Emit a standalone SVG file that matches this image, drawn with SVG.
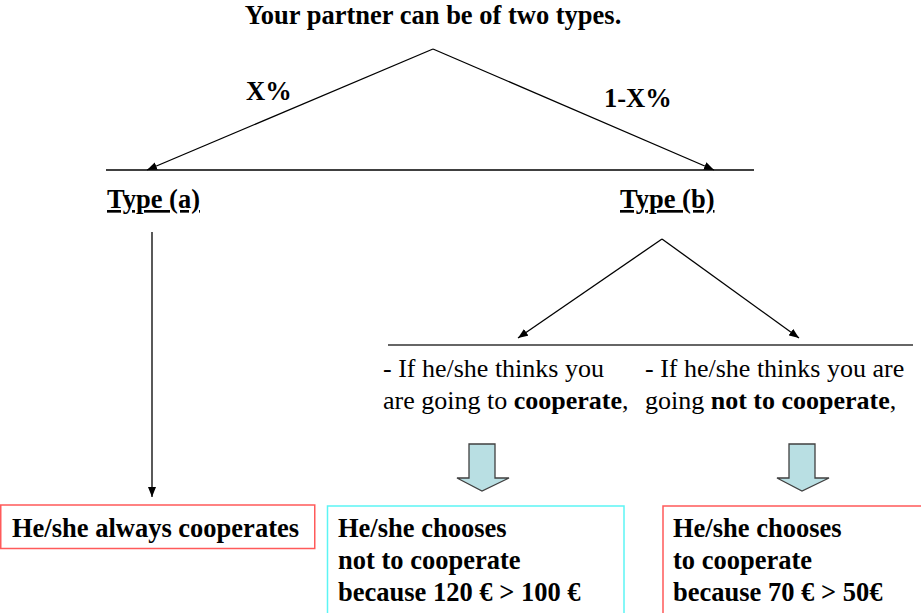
<svg xmlns="http://www.w3.org/2000/svg" width="921" height="613" viewBox="0 0 921 613">
<defs>
<marker id="ah" viewBox="0 0 10 8" refX="10" refY="4" markerWidth="10" markerHeight="8" markerUnits="userSpaceOnUse" orient="auto">
<path d="M0,0 L10,4 L0,8 Z" fill="#000"/>
</marker>
<style>
text{fill:#000}
.b{font-weight:bold;font-size:26.5px}
.r{font-size:26px}
.bt{font-weight:bold}
.ln{stroke:#000;stroke-width:1.3;fill:none}
.arr{stroke:#000;stroke-width:1.3;fill:none;marker-end:url(#ah)}
.blk{fill:#b9dfe3;stroke:#404040;stroke-width:1.3}
.red{fill:#fff;stroke:#ff5a5a;stroke-width:1.5}
.cyan{fill:#fff;stroke:#5cf5f5;stroke-width:1.5}
</style>
</defs>
<rect width="921" height="613" fill="#fff"/>
<g font-family="Liberation Serif, Times New Roman, Times, DejaVu Serif, serif">
<g id="title"><text class="b" x="433" y="24" text-anchor="middle">Your partner can be of two types.</text></g>
<g id="label-x"><text class="b" x="246" y="100">X%</text></g>
<g id="label-1x"><text class="b" x="604" y="107">1-X%</text></g>
<g id="type-a"><text class="b" x="107" y="208" text-decoration="underline">Type (a)</text></g>
<g id="type-b"><text class="b" x="620" y="208" text-decoration="underline">Type (b)</text></g>
<g id="cond-coop"><text class="r" x="383" y="377">- If he/she thinks you</text><text class="r" x="383" y="409">are going to <tspan class="bt">cooperate</tspan>,</text></g>
<g id="cond-notcoop"><text class="r" x="645" y="377">- If he/she thinks you are</text><text class="r" x="645" y="409">going <tspan class="bt">not to cooperate</tspan>,</text></g>
<g id="box-always"><rect class="red" x="0.75" y="505" width="314" height="43.5"/><text class="b" x="12" y="537">He/she always cooperates</text></g>
<g id="box-not"><rect class="cyan" x="327.5" y="506" width="296.5" height="110"/><text class="b" x="338"><tspan x="338" y="537">He/she chooses</tspan><tspan x="338" y="569">not to cooperate</tspan><tspan x="338" y="601">because 120 € &gt; 100 €</tspan></text></g>
<g id="box-coop"><rect class="red" x="663" y="506" width="262" height="110"/><text class="b" x="673"><tspan x="673" y="537">He/she chooses</tspan><tspan x="673" y="569">to cooperate</tspan><tspan x="673" y="601">because 70 € &gt; 50€</tspan></text></g>
</g>
<g id="connectors">
<line class="ln" x1="106" y1="170" x2="754" y2="170"/>
<line class="arr" x1="433" y1="49" x2="147" y2="170"/>
<line class="arr" x1="433" y1="49" x2="714" y2="170"/>
<line class="arr" x1="152" y1="232" x2="152" y2="497"/>
<line x1="388" y1="345" x2="913" y2="345" stroke="#666" stroke-width="1.8"/>
<line class="arr" x1="662" y1="239" x2="518" y2="338"/>
<line class="arr" x1="662" y1="239" x2="799" y2="338"/>
<path class="blk" d="M469,444 H495 V478 H509 L482,491 L457,478 H469 Z"/>
<path class="blk" d="M789,444 H815 V478 H829 L802,491 L777,478 H789 Z"/>
</g>
</svg>
